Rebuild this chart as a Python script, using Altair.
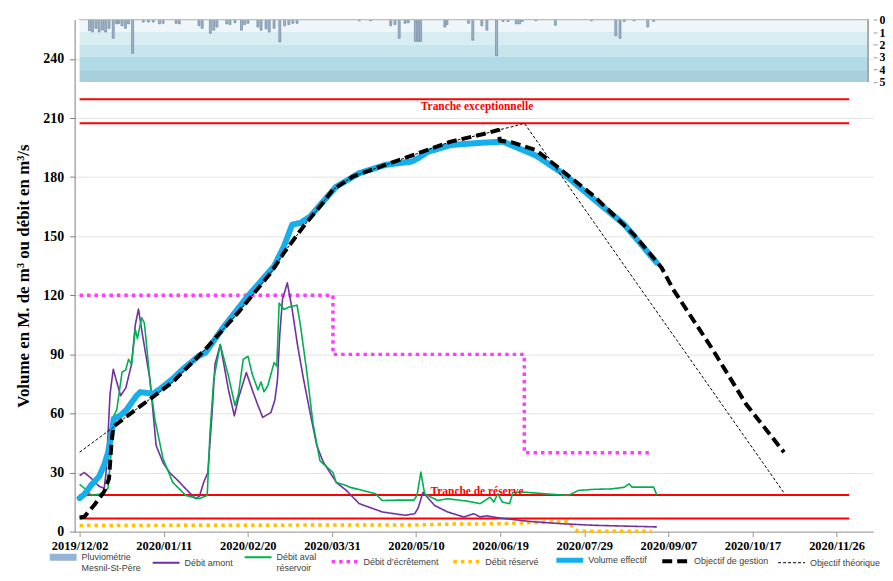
import altair as alt
import pandas as pd

# ---------------- data (x = days since 2019-12-02) ----------------
amont_day = [0, 2.3, 5.6, 9.3, 11.7, 12.6, 14.5, 16, 19.5, 22, 24.7, 26.5, 28, 29.9, 33.5, 36.4, 39.7, 42.8, 46.7, 50.5,
             55.2, 57, 59, 61, 63, 64.4, 66.9, 68.6, 70.8, 73.6, 75.6, 79.3, 82.5, 84.5, 87.1, 91, 92.9, 94.1, 95.2, 96.5,
             98.8, 101.1, 103.6, 106.5, 109.7, 112.8, 115.9, 122.1, 126.8, 133, 143.9, 154.8, 159.4, 161, 163.3,
             168.8, 175, 182.8, 185.7, 187.4, 190.4, 193.6, 199.9, 213.9, 229.4, 245, 274.5]
amont_val = [28.5, 30, 27, 23, 22, 30, 70, 82.4, 69, 73, 85, 105, 113, 100, 77, 43.7, 35, 30, 26, 21.7,
             16.7, 18, 25, 30, 60, 85, 95, 85, 72, 58.8, 68, 80.8, 70.8, 65, 58, 60.5, 67, 77, 100, 118,
             126.3, 112.8, 95, 77.4, 60, 43.7, 35.3, 25, 21, 14.2, 10, 8.3, 9.1, 12, 20,
             13.3, 10, 7.4, 8.5, 9.1, 7.5, 8, 6.9, 5.2, 4, 3.2, 2.4]

aval_day = [0, 2.3, 5.5, 9.3, 11.7, 13.5, 15, 16.3, 17.7, 20.2, 21.9, 23.3, 24.7, 26.5, 27.5, 29.5, 30.8, 31.9, 33.6, 35.8,
            39.7, 44.3, 50.5, 56.8, 60.7, 62, 63.8, 66.9, 70.8, 73.9, 75.6, 77.8, 80.1, 82.1, 84.8, 86.3, 87.7, 89.5, 91, 92.5,
            93.8, 94.9, 97.2, 99.5, 103.4, 105, 108.1, 111, 114.3, 120.5, 122, 126.8, 128.3, 140.8, 143.9,
            151, 159, 160.5, 162.3, 164.1, 170.3, 175, 184.3, 190.5, 195.2, 197, 198.3, 199, 201, 204.5,
            206.1, 212.3, 221.7, 232.5, 237.2, 245, 252.8, 259, 261.3, 262.7, 273, 274.5]
aval_val = [24, 22, 18.4, 19, 20, 22, 40, 58.8, 62, 81, 82, 87.5, 85, 102.7, 98, 108.6, 106, 94.2, 75, 57,
            37, 25, 18.4, 16.7, 18.4, 50, 77.4, 95, 79, 64, 70, 87.5, 89, 80, 72, 76, 71, 74, 80, 85.8,
            84, 116, 112.8, 114, 115, 105, 80.8, 55, 36, 30, 25, 23.4, 22.6, 19.2, 15.8,
            16, 16, 18.5, 30.2, 19.2, 15.8, 16.7, 15.5, 14.2, 17.5, 15, 18, 19.2, 15, 14.2,
            20, 20, 19.2, 18.4, 20.9, 21.5, 21.7, 22.5, 24.3, 22.6, 22.6, 18.7]

ecre_day = [0, 120.5, 120.5, 211.5, 211.5, 272]
ecre_val = [120, 120, 90, 90, 40, 40]

reserve_day = [0, 100, 160, 175, 200, 215, 225, 232.5, 235, 237, 272]
reserve_val = [3.1, 3.3, 3.4, 3.8, 4.0, 4.6, 4.9, 4.9, 1.5, 0.2, 0.2]

vol_day = [0, 2.3, 5.5, 9.3, 11.7, 13.5, 14.8, 16.3, 17.9, 19.5, 22.4, 24.9, 27.1, 28.8, 31.3, 35, 38.1, 44.3, 49, 56.8,
           59.9, 67.7, 80.1, 92.5, 97.2, 101.1, 105, 109.7, 115.9, 122.1, 133, 145.4, 157.9, 161, 165.7,
           176.5, 192.1, 201.4, 206.9, 217, 231, 245, 259, 274.4]
vol_val = [17, 19, 23.6, 28, 33.8, 40, 47.2, 57.4, 58.2, 59, 62, 65.8, 69, 70.8, 70.5, 70, 72.3, 77.6, 82.4, 89.3,
           90.9, 102.8, 119.7, 134.8, 144.9, 155.9, 156.7, 160.1, 167.7, 175.2, 182, 186.2, 187.9, 189.6, 192.9,
           196.3, 197.5, 198, 195.5, 191, 181, 168.4, 156, 136.6]

gest_day = [0, 2.3, 7, 11.7, 14, 15.1, 16, 21, 44.3, 59.9, 75.5, 91, 97.2, 106.5, 114.3, 120.5, 129.9, 145.4, 161, 176.5,
            192.1, 199.1, 199.9, 206.1, 217, 226.3, 245, 263.7, 276.8, 282.3, 301, 317, 335]
gest_val = [7.2, 7.6, 13.5, 20.3, 27, 43.9, 53.2, 57.4, 75.9, 92.7, 111.3, 131.5, 141.6, 155, 165.1, 173.6, 180.3, 186.2, 192.1, 198,
            201.9, 203.9, 198.5, 197.5, 193.7, 186, 170, 150.7, 134, 123, 92.6, 64.7, 40.3]

theo_day = [0, 16, 21, 44.3, 59.9, 75.5, 91, 97.2, 106.5, 114.3, 120.5, 129.9, 145.4, 161, 176.5, 192.1, 199.1, 206.5, 211.5, 335]
theo_val = [40.3, 53, 57.4, 75.9, 92.7, 111.3, 131.5, 141.6, 155, 165.1, 173.6, 180.3, 186.2, 192.1, 198, 201.9, 203.9, 205.8, 207.4, 19.7]

pluv_day = [4.7, 6.2, 7.8, 9.3, 10.9, 12.4, 14, 16, 17.6, 18.7, 20.2, 21.8, 23.3, 25.2, 30.3, 32.7, 35, 38, 39.7, 45.9,
            47.4, 56.8, 58.3, 62.2, 63.8, 65.3, 70, 71.5, 73.9, 77, 78.5, 80.1, 84.8, 86.3, 88.7, 90.2, 92.5, 95.2, 97.5, 99.5,
            101.4, 103.4, 133, 138.4, 148, 150, 152, 154.8, 156.3, 159.7, 161, 162.2, 173.7, 174.7, 185, 187, 191.3, 193.7,
            198.3, 201.4, 203.8, 207.7, 209.2, 210.5, 217, 226.3, 243.4, 255, 257, 259, 263.7, 270.2, 273]
pluv_mm = [0.9, 1.0, 0.7, 1.0, 0.85, 1.0, 0.7, 1.5, 0.35, 0.3, 0.5, 0.7, 0.35, 2.7, 0.2, 0.2, 0.2, 0.35, 0.3, 0.3,
           0.35, 0.5, 0.7, 1.1, 0.85, 0.6, 0.35, 0.4, 0.25, 0.85, 0.4, 0.3, 0.6, 0.85, 0.75, 1.0, 0.7, 1.8, 0.5, 0.4,
           0.3, 0.3, 0.1, 0.1, 0.5, 0.4, 1.5, 0.3, 0.25, 1.75, 1.75, 1.75, 0.6, 0.4, 0.3, 1.65, 0.5, 0.85,
           2.9, 0.15, 0.15, 0.35, 0.35, 0.15, 0.1, 0.45, 0.1, 1.3, 1.5, 0.15, 0.1, 0.6, 0.15]

band_lo = [0, 1, 2, 3, 4]
band_hi = [1, 2, 3, 4, 5]
band_colors = ["#EEF6F9", "#D8EDF2", "#C7E5ED", "#B0DAE6", "#A8CFDB"]

tranche_val = [219.5, 207.4, 18.6, 6.7]
label_text = ["Tranche exceptionnelle", "Tranche de réserve"]
label_day = [189, 189]
label_val = [215.5, 20.3]

x_ticks = [0, 40, 80, 120, 160, 200, 240, 280, 320, 360]
y_ticks = [0, 30, 60, 90, 120, 150, 180, 210, 240]

S_PLUV = "Pluviométrie|Mesnil-St-Père"
S_AMONT = "Débit amont"
S_AVAL = "Débit aval|réservoir"
S_ECRE = "Débit d’écrêtement"
S_RES = "Débit réservé"
S_VOL = "Volume effectif"
S_GEST = "Objectif de gestion"
S_THEO = "Objectif théorique"
names = [S_PLUV, S_AMONT, S_AVAL, S_ECRE, S_RES, S_VOL, S_GEST, S_THEO]
colors = ["#95B3D7", "#7030A0", "#00B050", "#FF3DFF", "#FFC000", "#16AEEB", "#000000", "#000000"]
dashes = [[1, 0], [1, 0], [1, 0], [3.5, 4], [3.5, 4], [1, 0], [10, 5], [3, 2]]

# ---------------- tables ----------------
rows = []
for name, dd, vv in [(S_AMONT, amont_day, amont_val), (S_AVAL, aval_day, aval_val),
                     (S_ECRE, ecre_day, ecre_val), (S_RES, reserve_day, reserve_val),
                     (S_VOL, vol_day, vol_val), (S_GEST, gest_day, gest_val),
                     (S_THEO, theo_day, theo_val)]:
    for i, (d, v) in enumerate(zip(dd, vv)):
        rows.append({"day": d, "val": v, "serie": name, "i": i})
df = pd.DataFrame(rows)
pluv_df = pd.DataFrame({"day": pluv_day, "mm": pluv_mm})
band_df = pd.DataFrame({"lo": band_lo, "hi": band_hi, "c": band_colors})
red_df = pd.DataFrame({"v": tranche_val})
lab_df = pd.DataFrame({"day": label_day, "val": label_val, "t": label_text})

SERIF = "Liberation Serif"
SANS = "Liberation Sans"

xscale = alt.Scale(domain=[0, 375], nice=False, zero=False)
X_AXIS = alt.Axis(values=x_ticks, labelExpr="utcFormat(utc(2019, 11, 2) + datum.value * 86400000, '%Y/%m/%d')",
                  title=None, grid=False, labelFont=SERIF, labelFontWeight="bold", labelFontSize=12.5,
                  labelColor="#000000", domainColor="#9A9A9A", tickColor="#9A9A9A", tickSize=5,
                  labelPadding=3, labelOverlap=False, labelFlush=False)

def X(field="day"):
    return alt.X(f"{field}:Q", scale=xscale, axis=X_AXIS)

yscale = alt.Scale(domain=[0, 260], nice=False, zero=True)
Y_AXIS = alt.Axis(values=y_ticks, title="Volume en M. de m³ ou débit en m³/s", grid=True, gridColor="#E3E3E3",
                  labelFont=SERIF, labelFontWeight="bold", labelFontSize=14, labelColor="#000000",
                  domainColor="#7F7F7F", tickColor="#7F7F7F", tickSize=5, labelPadding=6,
                  titleFont=SERIF, titleFontWeight="bold", titleFontSize=17, titleColor="#000000",
                  titlePadding=10)

def Y(field="val"):
    return alt.Y(f"{field}:Q", scale=yscale, axis=Y_AXIS)

pscale = alt.Scale(domain=[0, 41], reverse=True, nice=False, zero=True)
P_AXIS = alt.Axis(orient="right", values=[0, 1, 2, 3, 4, 5], title=None, grid=False, domain=False,
                  labelFont=SERIF, labelFontWeight="bold", labelFontSize=12, labelColor="#000000",
                  tickColor="#9A9A9A", tickSize=4, labelPadding=2)

def P(field):
    return alt.Y(f"{field}:Q", scale=pscale, axis=P_AXIS)

width_sig = ("datum.value == '" + S_VOL + "' ? 5 : datum.value == '" + S_GEST + "' ? 4 : datum.value == '"
             + S_PLUV + "' ? 7 : datum.value == '" + S_THEO + "' ? 1 : (datum.value == '" + S_ECRE
             + "' || datum.value == '" + S_RES + "') ? 3.5 : 2")

legend = alt.Legend(orient="none", legendX=-16, legendY=536, direction="horizontal", columns=8, title=None,
                    symbolType="stroke", symbolSize=729, labelFont=SANS, labelFontSize=9, labelColor="#404040",
                    labelExpr="split(datum.label, '|')", columnPadding=7.5, labelOffset=14, padding=0,
                    labelLimit=300, symbolStrokeWidth=alt.ExprRef(expr=width_sig))

C = alt.Color("serie:N", scale=alt.Scale(domain=names, range=colors), legend=legend)
D = alt.StrokeDash("serie:N", scale=alt.Scale(domain=names, range=dashes), legend=legend)

base = alt.Chart(df)

def line(name, width, cap="butt"):
    return base.transform_filter(alt.datum.serie == name).mark_line(
        strokeWidth=width, strokeCap=cap, strokeJoin="round").encode(
        x=X(), y=Y(), color=C, strokeDash=D, order="i:Q")

# ---------------- pluviometry panel ----------------
bands = alt.Chart(band_df).mark_rect().encode(
    x=alt.datum(0, scale=xscale, axis=X_AXIS), x2=alt.datum(375),
    y=P("lo"), y2="hi:Q", fill=alt.Fill("c:N", scale=None))
bars = alt.Chart(pluv_df).mark_bar(size=2, color="#A3B6C9", stroke="#5F7C96", strokeWidth=0.6).encode(
    x=X(), y=P("mm"), y2=alt.datum(0))
top_rule = alt.Chart(band_df).mark_rule(color="#BDBDBD", strokeWidth=1).encode(
    x=alt.datum(0, scale=xscale, axis=X_AXIS), x2=alt.datum(375), y=alt.datum(0, scale=pscale, axis=P_AXIS))
right_rule = alt.Chart(band_df).mark_rule(color="#A6A6A6", strokeWidth=1).encode(
    x=alt.datum(375, scale=xscale, axis=X_AXIS), y=alt.datum(0, scale=pscale, axis=P_AXIS), y2=alt.datum(5))
pluv_layer = alt.layer(bands, bars, top_rule, right_rule)

# ---------------- main panel ----------------
red = alt.Chart(red_df).mark_rule(color="#FF0000", strokeWidth=2).encode(
    x=alt.datum(0, scale=xscale, axis=X_AXIS), x2=alt.datum(366), y=Y("v"))
texts = alt.Chart(lab_df).mark_text(font=SERIF, fontWeight="bold", fontSize=11.5, color="#FF0000",
                                    align="center", baseline="middle").encode(x=X(), y=Y(), text="t:N")

main_layer = alt.layer(
    line(S_ECRE, 3.5),
    line(S_RES, 3.5),
    red,
    line(S_AMONT, 1.6),
    line(S_AVAL, 1.6),
    line(S_VOL, 6, "round"),
    line(S_THEO, 1),
    line(S_GEST, 4),
    texts,
)

chart = alt.layer(pluv_layer, main_layer).resolve_scale(y="independent").properties(
    width=803, height=515, padding={"left": 7, "top": 4, "right": 0, "bottom": 0}
).configure_view(stroke=None)

chart.save("out.html", embed_options={"renderer": "svg", "actions": False})
